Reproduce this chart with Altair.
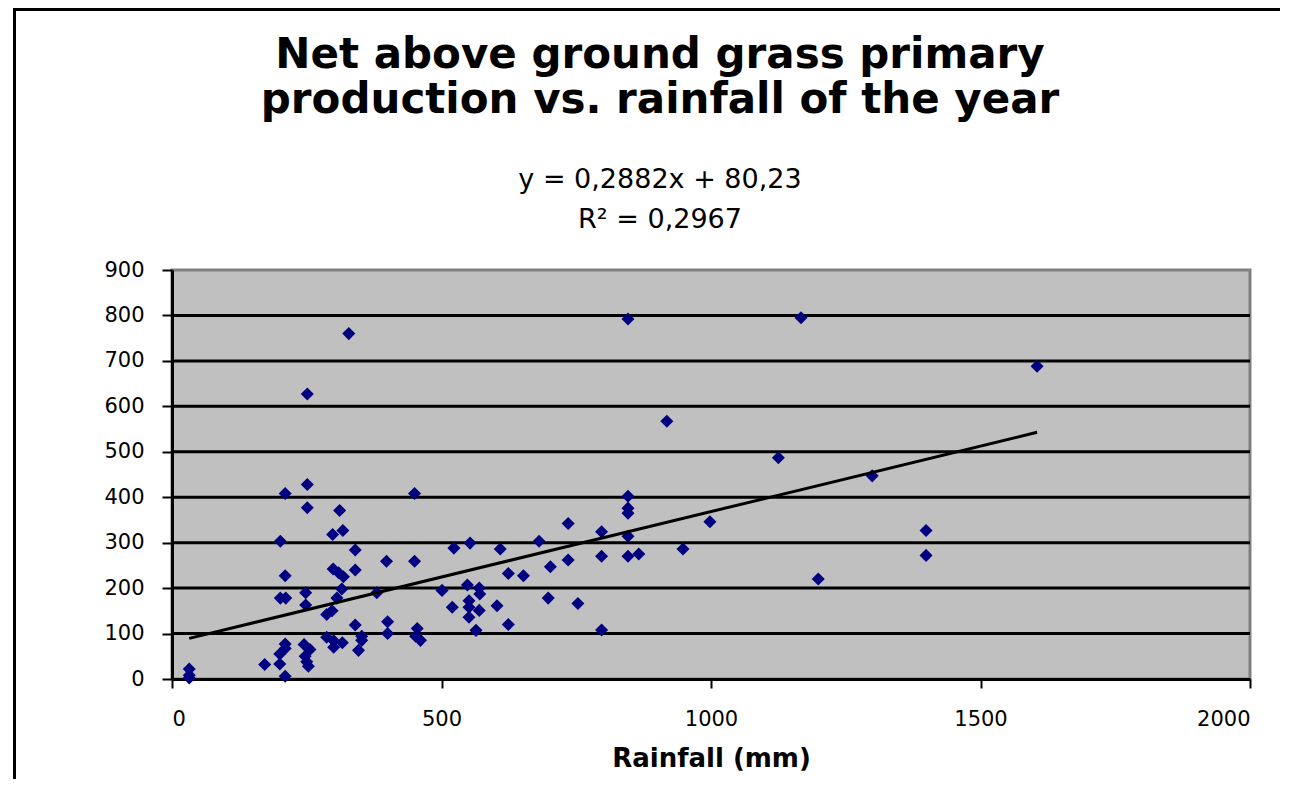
import altair as alt
import pandas as pd

# Rainfall (mm) and net above-ground grass primary production
rain = [32, 32, 32,
        172, 200, 210, 200, 210, 210, 201, 211, 210, 201, 210,
        251, 251, 251, 248, 248, 245, 256, 247, 250, 253,
        299, 309, 318, 311, 317, 298, 315, 306, 287, 297, 287, 300, 300, 316,
        328,
        340, 340, 340, 352, 352, 346,
        380, 398, 400, 400,
        450, 450, 455, 452, 461,
        501, 520, 523,
        553, 548, 570, 571, 551, 551, 570, 551, 564,
        609, 603, 624, 624,
        652,
        681, 702, 698,
        735, 735, 753,
        797, 797, 797,
        846, 846, 846, 846, 846, 846, 866,
        918, 948, 998, 1125, 1167, 1199, 1299, 1399, 1399, 1605]
npp = [22, 8, 2,
       32, 33, 6, 55, 77, 67, 178, 178, 227, 303, 408,
       627, 428, 377, 190, 163, 76, 65, 50, 38, 28,
       242, 234, 225, 371, 327, 318, 198, 178, 142, 150, 92, 84, 70, 80,
       760,
       284, 240, 119, 94, 85, 63,
       190, 259, 126, 100,
       408, 259, 111, 94, 85,
       195, 158, 288,
       299, 207, 200, 187, 172, 158, 151, 136, 107,
       286, 161, 232, 120,
       227,
       303, 247, 178,
       262, 342, 166,
       324, 270, 108,
       792, 402, 376, 365, 314, 270, 275,
       567, 286, 346, 487, 795, 220, 447, 327, 272, 688]

slope = 0.2882
intercept = 80.23
x_ticks = [0, 500, 1000, 1500, 2000]
y_ticks = [0, 100, 200, 300, 400, 500, 600, 700, 800, 900]
grid_vals = [100, 200, 300, 400, 500, 600, 700, 800]

title_lines = ["Net above ground grass primary", "production vs. rainfall of the year"]
eq_lines = ["y = 0,2882x + 80,23", "R\u00b2 = 0,2967"]

df = pd.DataFrame({"rain": rain, "npp": npp})
xmin, xmax = min(rain), max(rain)
trend = pd.DataFrame({"rain": [xmin, xmax],
                      "npp": [slope * xmin + intercept, slope * xmax + intercept]})
grid = pd.DataFrame({"g": grid_vals})

xscale = alt.Scale(domain=[0, 2000], nice=False, zero=False)
yscale = alt.Scale(domain=[0, 900], nice=False)

FONT = "DejaVu Sans"

x_axis = alt.Axis(values=x_ticks, format="d", title="Rainfall (mm)", grid=False,
                  labelFont=FONT, labelFontSize=21, labelColor="black",
                  labelPadding=20, tickSize=9, tickWidth=2, tickColor="black",
                  domainColor="black", domainWidth=3,
                  titleFont=FONT, titleFontSize=26, titleFontWeight="bold",
                  titleColor="black", titlePadding=16)
y_axis = alt.Axis(values=y_ticks, format="d", title=None, grid=False,
                  labelFont=FONT, labelFontSize=21, labelColor="black",
                  labelPadding=18, tickSize=10, tickWidth=2, tickColor="black",
                  domainColor="black", domainWidth=3)

grid_layer = alt.Chart(grid).mark_rule(color="black", strokeWidth=3).encode(
    y=alt.Y("g:Q", scale=yscale, axis=y_axis)
)

points = alt.Chart(df).mark_point(shape="diamond", filled=True, color="#000080",
                                  size=170, opacity=1).encode(
    x=alt.X("rain:Q", scale=xscale, axis=x_axis),
    y=alt.Y("npp:Q", scale=yscale, axis=y_axis),
)

trend_layer = alt.Chart(trend).mark_line(color="black", strokeWidth=3).encode(
    x=alt.X("rain:Q", scale=xscale),
    y=alt.Y("npp:Q", scale=yscale),
)

one = pd.DataFrame({"k": [0]})
border_top = alt.Chart(one).mark_rect(color="black").encode(
    x=alt.value(-159), x2=alt.value(1140), y=alt.value(-262), y2=alt.value(-259)
)
border_left = alt.Chart(one).mark_rect(color="black").encode(
    x=alt.value(-159), x2=alt.value(-156), y=alt.value(-262), y2=alt.value(540)
)


def text_line(s, y, size, weight):
    return alt.Chart(pd.DataFrame({"t": [s]})).mark_text(
        font=FONT, fontSize=size, fontWeight=weight, color="black",
        align="center", baseline="alphabetic"
    ).encode(text="t:N", x=alt.value(488), y=alt.value(y))


t1 = text_line(title_lines[0], -202, 42, "bold")
t2 = text_line(title_lines[1], -157, 42, "bold")
e1 = text_line(eq_lines[0], -82, 27, "normal")
e2 = text_line(eq_lines[1], -42, 27, "normal")

chart = alt.layer(grid_layer, points, trend_layer, border_top, border_left,
                  t1, t2, e1, e2).properties(
    width=1078,
    height=409,
    autosize=alt.AutoSizeParams(type="none"),
    padding={"left": 164, "top": 262, "right": 30, "bottom": 100},
).configure(background="white").configure_view(
    fill="#C0C0C0", stroke="#808080", strokeWidth=3
)

chart.save("out.html", embed_options={"renderer": "svg", "actions": False})
